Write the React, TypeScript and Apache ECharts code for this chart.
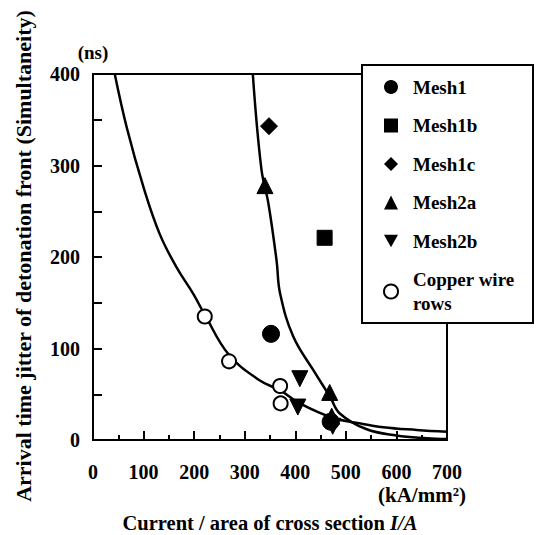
import React, { useEffect, useRef } from "react";
import * as echarts from "echarts";

// Scatter data [current density kA/mm², jitter ns]
const mesh1: number[][] = [[352, 116], [470, 20]];
const mesh1b: number[][] = [[458, 221]];
const mesh1c: number[][] = [[348, 343]];
const mesh2a: number[][] = [[340, 278], [468, 52], [472, 26]];
const mesh2b: number[][] = [[409, 67], [405, 36], [474, 15]];
const copperWire: number[][] = [[221, 135], [269, 86], [370, 59], [371, 40]];

// Fit curves
const fitCopper: number[][] = [
  [43, 400], [67, 341], [100, 276], [132, 225], [165, 189], [198, 160], [221, 137],
  [269, 93], [330, 65], [371, 54], [409, 40], [475, 24], [520, 19], [574, 14],
  [640, 11], [700, 9],
];
const fitMesh: number[][] = [
  [316, 400], [333, 296], [347, 258], [363, 196], [370, 160], [396, 113],
  [436, 76], [469, 47], [488, 29], [540, 12], [600, 5], [660, 2], [700, 1],
];

const xTicks = [0, 100, 200, 300, 400, 500, 600, 700];
const yTicks = [0, 100, 200, 300, 400];

const legendNames = ["Mesh1", "Mesh1b", "Mesh1c", "Mesh2a", "Mesh2b", "Copper wire\nrows"];

const FONT = "'Liberation Serif', 'Times New Roman', serif";
const DOWN_TRI = "path://M0,0 L10,0 L5,9 Z";

export default function App() {
  const ref = useRef<HTMLDivElement>(null);
  useEffect(() => {
    if (!ref.current) return;
    const chart = echarts.init(ref.current, null, { renderer: "svg" });
    const txt = { fontFamily: FONT, fontWeight: "bold" as const, color: "#000" };
    const scatter = (name: string, data: number[][], symbol: string, size: number) => ({
      name,
      type: "scatter",
      data,
      symbol,
      symbolSize: size,
      itemStyle: { color: "#000", borderColor: "#000", opacity: 1 },
      z: 5,
    });
    chart.setOption({
      animation: false,
      backgroundColor: "#fff",
      grid: {
        left: 93, right: 89, top: 74, bottom: 95,
        outerBoundsMode: "none",
        containLabel: false,
        show: true, borderColor: "#000", borderWidth: 2, backgroundColor: "transparent",
      },
      xAxis: {
        type: "value", min: xTicks[0], max: xTicks[xTicks.length - 1], interval: 100,
        name: "Current / area of cross section {i|I/A}",
        nameLocation: "middle", nameGap: 72,
        nameTextStyle: { ...txt, fontSize: 20.5, rich: { i: { ...txt, fontSize: 20.5, fontStyle: "italic" } } },
        axisLine: { lineStyle: { color: "#000", width: 2 } },
        axisTick: { inside: true, length: 9, lineStyle: { color: "#000", width: 2 } },
        minorTick: { show: true, splitNumber: 2, length: 5, lineStyle: { color: "#000", width: 2 } },
        axisLabel: { ...txt, fontSize: 20, margin: 22 },
        splitLine: { show: false },
      },
      yAxis: {
        type: "value", min: yTicks[0], max: yTicks[yTicks.length - 1], interval: 100,
        name: "(ns)", nameLocation: "end", nameGap: 12,
        nameTextStyle: { ...txt, fontSize: 19, align: "center" },
        axisLine: { lineStyle: { color: "#000", width: 2 } },
        axisTick: { inside: true, length: 9, lineStyle: { color: "#000", width: 2 } },
        minorTick: { show: true, splitNumber: 2, length: 9, lineStyle: { color: "#000", width: 2 } },
        axisLabel: { ...txt, fontSize: 20, margin: 13 },
        splitLine: { show: false },
      },
      legend: {
        data: [
          { name: legendNames[0], icon: "circle" },
          { name: legendNames[1], icon: "rect" },
          { name: legendNames[2], icon: "diamond" },
          { name: legendNames[3], icon: "triangle" },
          { name: legendNames[4], icon: DOWN_TRI },
          { name: legendNames[5], icon: "emptyCircle", itemStyle: { color: "#000", borderColor: "#000", borderWidth: 2.5 } },
        ],
        orient: "vertical",
        left: 378, top: 70, itemGap: 14.5, itemWidth: 14, itemHeight: 14,
        textStyle: { ...txt, fontSize: 19, lineHeight: 24, padding: [0, 0, 0, 10] },
        selectedMode: false,
        z: 30,
      },
      graphic: [
        {
          type: "rect", z: 20,
          shape: { x: 362, y: 65, width: 171, height: 258 },
          style: { fill: "#fff", stroke: "#000", lineWidth: 2 },
        },
        {
          type: "text", x: 23, y: 256, rotation: Math.PI / 2,
          style: {
            text: "Arrival time jitter of detonation front (Simultaneity)",
            font: `bold 22px ${FONT}`, fill: "#000", align: "center", verticalAlign: "middle",
          },
        },
        {
          type: "text", x: 422, y: 495,
          style: {
            text: "(kA/mm²)", font: `bold 21px ${FONT}`, fill: "#000",
            align: "center", verticalAlign: "middle",
          },
        },
      ],
      series: [
        {
          name: "fitCopper", type: "line", data: fitCopper, smooth: 0.4, showSymbol: false,
          lineStyle: { color: "#000", width: 2.5 }, z: 3, silent: true,
        },
        {
          name: "fitMesh", type: "line", data: fitMesh, smooth: 0.4, showSymbol: false,
          lineStyle: { color: "#000", width: 2.5 }, z: 3, silent: true,
        },
        scatter(legendNames[0], mesh1, "circle", 17),
        scatter(legendNames[1], mesh1b, "rect", 15),
        scatter(legendNames[2], mesh1c, "diamond", 17),
        scatter(legendNames[3], mesh2a, "triangle", 16),
        scatter(legendNames[4], mesh2b, DOWN_TRI, 16),
        {
          name: legendNames[5], type: "scatter", data: copperWire, symbol: "emptyCircle", symbolSize: 14,
          itemStyle: { color: "#000", borderColor: "#000", borderWidth: 2.5, opacity: 1 }, z: 5,
        },
      ],
    });
    return () => chart.dispose();
  }, []);
  return <div ref={ref} style={{ width: 536, height: 535, position: "absolute", left: 0, top: 0 }} />;
}
